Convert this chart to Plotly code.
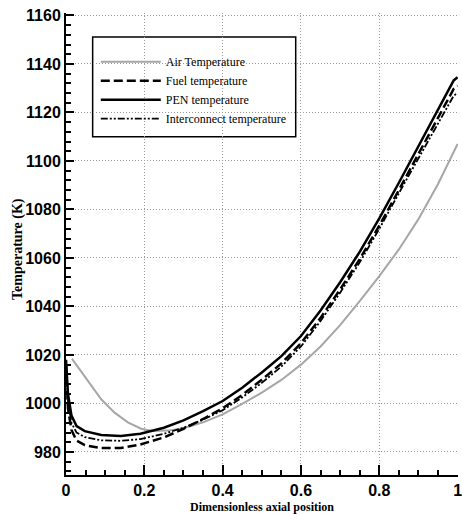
import plotly.graph_objects as go

# axial positions and temperatures (K)
x_solid = [0, 0.005, 0.014, 0.027, 0.048, 0.09, 0.14, 0.19, 0.25, 0.3, 0.35, 0.4, 0.45,
           0.5, 0.55, 0.6, 0.65, 0.7, 0.75, 0.8, 0.85, 0.9, 0.95, 0.98, 0.99, 1.0]
pen_temp = [1018, 1004, 995, 990.7, 988.6, 987, 986.6, 987.5, 990, 993, 996.8, 1001, 1006.5,
            1012.8, 1019.5, 1027.8, 1038.3, 1050, 1062.5, 1076.3, 1091, 1106, 1121.2, 1130.5, 1133.2, 1134.5]
fuel_temp = [1016, 998, 989, 984.7, 982.8, 981.6, 981.6, 983.1, 986, 989.5, 993.6, 998, 1003.5,
             1009.8, 1016.5, 1024.8, 1035.3, 1047, 1059.5, 1073.3, 1088, 1103, 1118.2, 1127, 1129.7, 1131]
inter_temp = [1017, 1001, 992, 988, 986.1, 984.8, 984.6, 985.3, 987.5, 990, 993.3, 997.2, 1002.5,
              1008.5, 1015.2, 1023.5, 1034, 1045.7, 1058.2, 1072, 1086.7, 1101.2, 1115.7, 1124.5, 1126.9, 1128]

x_air = [0.015, 0.056, 0.09, 0.124, 0.158, 0.192, 0.22, 0.26, 0.3, 0.35, 0.4, 0.45, 0.5,
         0.55, 0.6, 0.65, 0.7, 0.75, 0.8, 0.85, 0.9, 0.95, 1.0]
air_temp = [1018.5, 1009.5, 1001.7, 996.2, 992.2, 989.6, 988.6, 988.8, 989.8, 992.2, 995.5, 999.8, 1004.5,
            1009.7, 1016, 1023.5, 1032.3, 1042.2, 1052.5, 1063.5, 1076, 1090.5, 1107]

x_ticks = [0, 0.2, 0.4, 0.6, 0.8, 1]
x_tick_labels = ["0", "0.2", "0.4", "0.6", "0.8", "1"]
y_ticks = [980, 1000, 1020, 1040, 1060, 1080, 1100, 1120, 1140, 1160]

tick_font = dict(family="Liberation Sans Narrow, Liberation Sans, Arial", size=16, color="black", weight="bold")
serif = "Liberation Serif, Times New Roman, serif"

fig = go.Figure()
fig.add_trace(go.Scatter(x=x_air, y=air_temp, mode="lines", name="Air Temperature",
                         line=dict(color="#a6a6a6", width=2)))
fig.add_trace(go.Scatter(x=x_solid, y=fuel_temp, mode="lines", name="Fuel temperature",
                         line=dict(color="black", width=2.5, dash="9px,4px")))
fig.add_trace(go.Scatter(x=x_solid, y=pen_temp, mode="lines", name="PEN temperature",
                         line=dict(color="black", width=2.5)))
fig.add_trace(go.Scatter(x=x_solid, y=inter_temp, mode="lines", name="Interconnect temperature",
                         line=dict(color="black", width=1.8, dash="7px,2px,2px,2px,2px,2px")))

# legend frame (white box with black border, drawn over the grid)
fig.add_shape(type="rect", xref="paper", yref="paper", x0=0.068, x1=0.586, y0=0.732, y1=0.948,
              line=dict(color="black", width=1.5), fillcolor="white", layer="between")

# y-axis title
fig.add_annotation(text="<b>Temperature (K)</b>", xref="paper", yref="paper",
                   x=-0.124, y=0.49, xanchor="center", yanchor="middle", textangle=-90,
                   showarrow=False, font=dict(family=serif, size=14, color="black"))

fig.update_layout(
    width=462, height=515,
    margin=dict(l=66, r=0, t=13, b=40),
    plot_bgcolor="white", paper_bgcolor="white",
    showlegend=True,
    legend=dict(x=0.076, y=0.926, xanchor="left", yanchor="top",
                bgcolor="rgba(0,0,0,0)", borderwidth=0,
                font=dict(family=serif, size=12, color="black"),
                tracegroupgap=0, itemwidth=60),
)
grid_dash = "1px,2px"
fig.update_xaxes(
    range=[0, 1.001], tickvals=x_ticks, ticktext=x_tick_labels,
    showline=True, linecolor="black", linewidth=2, mirror=False,
    ticks="inside", ticklen=10, tickwidth=2, tickcolor="black",
    minor=dict(dtick=0.05, ticks="inside", ticklen=5, tickwidth=1.5, tickcolor="black", showgrid=False),
    showgrid=True, gridcolor="#9a9a9a", gridwidth=1, griddash=grid_dash,
    zeroline=False, tickfont=tick_font, ticklabeloverflow="allow",
    title=dict(text="<b>Dimensionless axial position</b>", font=dict(family=serif, size=12, color="black"), standoff=4),
)
fig.update_yaxes(
    range=[970.5, 1161], tickvals=y_ticks,
    showline=True, linecolor="black", linewidth=2, mirror=False,
    ticks="inside", ticklen=8, tickwidth=2, tickcolor="black",
    minor=dict(dtick=4, tick0=980, ticks="inside", ticklen=5, tickwidth=1.5, tickcolor="black", showgrid=False),
    showgrid=True, gridcolor="#9a9a9a", gridwidth=1, griddash=grid_dash,
    zeroline=False, tickfont=tick_font, ticklabeloverflow="allow",
)

fig.write_html("out.html")
